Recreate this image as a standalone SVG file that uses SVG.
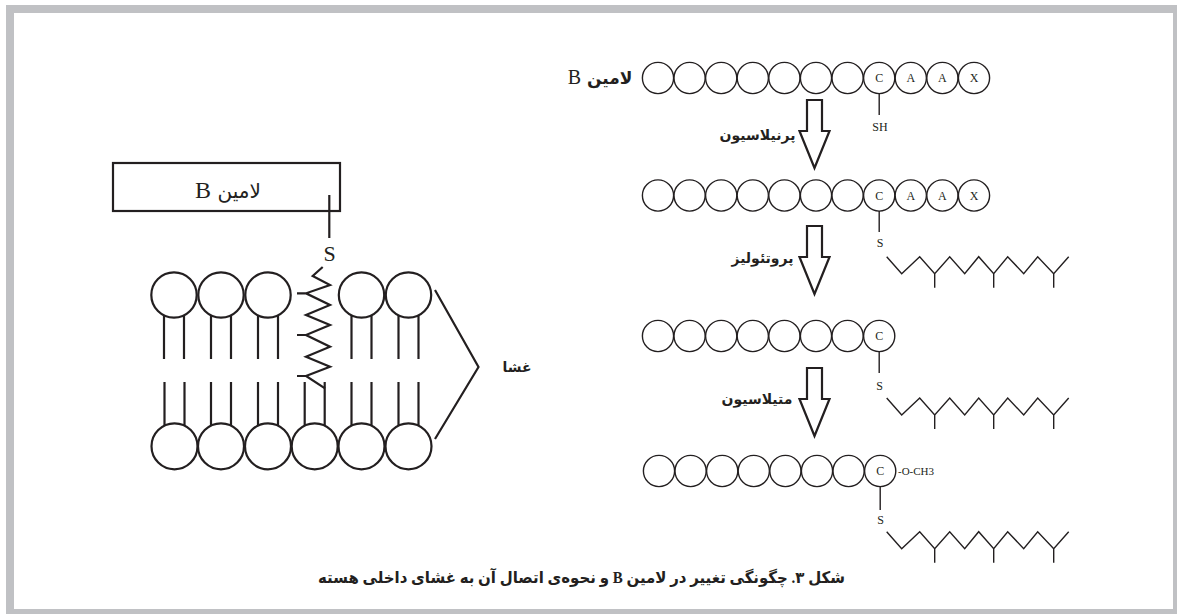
<svg xmlns="http://www.w3.org/2000/svg" xmlns:xlink="http://www.w3.org/1999/xlink" width="1180" height="614" viewBox="0 0 1180 614">
  <style>
    .ln { fill: none; stroke: #231f20; stroke-width: 1.4; stroke-linejoin: miter; }
    .thick { fill: none; stroke: #231f20; stroke-width: 2.2; }
    .res { fill: #fff; stroke: #231f20; stroke-width: 1.4; }
    .head { fill: #fff; stroke: #231f20; stroke-width: 2.2; }
    .aa { font-family: "Liberation Serif", serif; font-size: 12px; fill: #231f20; text-anchor: middle; }
    .lat { font-family: "Liberation Serif", serif; fill: #231f20; }
    .fa { font-family: "DejaVu Sans", "Noto Sans", sans-serif; fill: #231f20; }
    .mix { font-family: "Liberation Serif", "DejaVu Sans", serif; fill: #231f20; }
    .b { font-weight: bold; }
  </style>
  <defs>
    <circle id="res" r="15.6" class="res"/>
    <!-- prenyl chain: zigzag with three methyl branches -->
    <path id="prenyl" class="ln" d="M0,0 L15,17 L33,0 L48,17 L63,0 L78,17 L92,0 L107,17 L121,0 L137,17 L151,0 L167,17 L182,0 M48,17 V31 M107,17 V31 M167,17 V31"/>
    <!-- hollow down arrow -->
    <path id="arrow" class="thick" d="M-7.5,0 H7.5 V31 H15 L0,68 L-15,31 H-7.5 Z"/>
  </defs>

  <!-- frame -->
  <rect x="0" y="0" width="1180" height="614" fill="#fff"/>
  <rect x="6" y="5" width="1171" height="620" fill="#c0c1c4"/>
  <rect x="14" y="13" width="1159" height="596" fill="#fff"/>

  <!-- step 1: lamin B with CAAX tail -->
  <g id="chain1">
    <text class="fa b" x="600" y="84" font-size="17" direction="rtl" text-anchor="middle">لامین <tspan class="lat" font-size="20" font-weight="normal">B</tspan></text>
    <use xlink:href="#res" x="658" y="78"/>
    <use xlink:href="#res" x="689.6" y="78"/>
    <use xlink:href="#res" x="721.2" y="78"/>
    <use xlink:href="#res" x="752.8" y="78"/>
    <use xlink:href="#res" x="784.4" y="78"/>
    <use xlink:href="#res" x="816" y="78"/>
    <use xlink:href="#res" x="847.6" y="78"/>
    <use xlink:href="#res" x="879.2" y="78"/>
    <use xlink:href="#res" x="910.8" y="78"/>
    <use xlink:href="#res" x="942.4" y="78"/>
    <use xlink:href="#res" x="974" y="78"/>
    <text class="aa" x="879.2" y="82">C</text>
    <text class="aa" x="910.8" y="82">A</text>
    <text class="aa" x="942.4" y="82">A</text>
    <text class="aa" x="974" y="82">X</text>
    <line class="ln" x1="879.2" y1="93.6" x2="879.2" y2="115"/>
    <text class="aa" x="880" y="131">SH</text>
  </g>

  <!-- step 2: prenylated -->
  <g id="chain2">
    <use xlink:href="#res" x="658" y="195.5"/>
    <use xlink:href="#res" x="689.6" y="195.5"/>
    <use xlink:href="#res" x="721.2" y="195.5"/>
    <use xlink:href="#res" x="752.8" y="195.5"/>
    <use xlink:href="#res" x="784.4" y="195.5"/>
    <use xlink:href="#res" x="816" y="195.5"/>
    <use xlink:href="#res" x="847.6" y="195.5"/>
    <use xlink:href="#res" x="879.2" y="195.5"/>
    <use xlink:href="#res" x="910.8" y="195.5"/>
    <use xlink:href="#res" x="942.4" y="195.5"/>
    <use xlink:href="#res" x="974" y="195.5"/>
    <text class="aa" x="879.2" y="199.5">C</text>
    <text class="aa" x="910.8" y="199.5">A</text>
    <text class="aa" x="942.4" y="199.5">A</text>
    <text class="aa" x="974" y="199.5">X</text>
    <line class="ln" x1="879.2" y1="211.1" x2="879.2" y2="232"/>
    <text class="aa" x="880" y="247">S</text>
    <use xlink:href="#prenyl" x="886.7" y="256.7"/>
  </g>

  <!-- step 3: proteolysed -->
  <g id="chain3">
    <use xlink:href="#res" x="658" y="336"/>
    <use xlink:href="#res" x="689.6" y="336"/>
    <use xlink:href="#res" x="721.2" y="336"/>
    <use xlink:href="#res" x="752.8" y="336"/>
    <use xlink:href="#res" x="784.4" y="336"/>
    <use xlink:href="#res" x="816" y="336"/>
    <use xlink:href="#res" x="847.6" y="336"/>
    <use xlink:href="#res" x="879.2" y="336"/>
    <text class="aa" x="879.2" y="340">C</text>
    <line class="ln" x1="879.2" y1="351.6" x2="879.2" y2="373"/>
    <text class="aa" x="879.5" y="390">S</text>
    <use xlink:href="#prenyl" x="886.7" y="398"/>
  </g>

  <!-- step 4: methylated -->
  <g id="chain4">
    <use xlink:href="#res" x="659" y="471"/>
    <use xlink:href="#res" x="690.6" y="471"/>
    <use xlink:href="#res" x="722.2" y="471"/>
    <use xlink:href="#res" x="753.8" y="471"/>
    <use xlink:href="#res" x="785.4" y="471"/>
    <use xlink:href="#res" x="817" y="471"/>
    <use xlink:href="#res" x="848.6" y="471"/>
    <use xlink:href="#res" x="880.2" y="471"/>
    <text class="aa" x="880.2" y="475">C</text>
    <text class="lat" x="898" y="474.5" font-size="11">-O-CH3</text>
    <line class="ln" x1="880.2" y1="486.6" x2="880.2" y2="510"/>
    <text class="aa" x="880.5" y="524">S</text>
    <use xlink:href="#prenyl" x="886.7" y="531.7"/>
  </g>

  <!-- reaction arrows with step names -->
  <g id="connectors">
    <use xlink:href="#arrow" x="814.5" y="100"/>
    <use xlink:href="#arrow" x="814.5" y="226"/>
    <use xlink:href="#arrow" x="814.5" y="368"/>
  </g>
  <g id="step-labels">
    <text class="fa b" x="757.5" y="140" font-size="14" direction="rtl" text-anchor="middle">پرنیلاسیون</text>
    <text class="fa b" x="762.5" y="263" font-size="14" direction="rtl" text-anchor="middle">پروتئولیز</text>
    <text class="fa b" x="757" y="404" font-size="14" direction="rtl" text-anchor="middle">متیلاسیون</text>
  </g>

  <!-- lamin B anchored to the membrane -->
  <g id="lamin-box">
    <rect x="113" y="163" width="227" height="48" class="thick"/>
    <text class="fa" x="228" y="198" font-size="20" direction="rtl" text-anchor="middle">لامین <tspan class="lat" font-size="24">B</tspan></text>
    <line class="thick" x1="329.3" y1="195" x2="329.3" y2="238"/>
    <text class="lat" x="329.5" y="261" font-size="22" text-anchor="middle">S</text>
  </g>

  <g id="membrane">
    <!-- outer leaflet -->
    <g class="thick">
      <path d="M164,315 V359 M184,315 V359 M211,315 V359 M231,315 V359 M258,315 V359 M278,315 V359 M351.5,315 V359 M371.5,315 V359 M398.5,315 V359 M418.5,315 V359"/>
    </g>
    <circle class="head" cx="174" cy="295" r="22.7"/>
    <circle class="head" cx="221" cy="295" r="22.7"/>
    <circle class="head" cx="268" cy="295" r="22.7"/>
    <circle class="head" cx="361.5" cy="295" r="22.7"/>
    <circle class="head" cx="408.5" cy="295" r="22.7"/>
    <!-- inner leaflet -->
    <g class="thick">
      <path d="M164.5,382 V427 M184.5,382 V427 M211,382 V427 M231,382 V427 M258,382 V427 M278,382 V427 M304.7,382 V427 M324.7,382 V427 M351.5,382 V427 M371.5,382 V427 M398.5,382 V427 M418.5,382 V427"/>
    </g>
    <circle class="head" cx="174.5" cy="446.3" r="23"/>
    <circle class="head" cx="221" cy="446.3" r="23"/>
    <circle class="head" cx="268" cy="446.3" r="23"/>
    <circle class="head" cx="314.7" cy="446.3" r="23"/>
    <circle class="head" cx="361.5" cy="446.3" r="23"/>
    <circle class="head" cx="408.5" cy="446.3" r="23"/>
    <!-- prenyl anchor inserted in the bilayer -->
    <path class="thick" d="M322.7,267 L312.7,276 L330,285 L306,293.3 L330,305 L306,315 L330,325 L306,335 L330,346.7 L306,356.7 L330,366.7 L306,376 L325,388.3 M297,293.3 H306 M297,335 H306 M297,376 H306"/>
    <!-- bracket -->
    <path class="thick" d="M435,290 L478.5,367 L435,439"/>
    <text class="fa b" x="517" y="372" font-size="14" direction="rtl" text-anchor="middle">غشا</text>
  </g>

  <!-- caption: Latin letters in the serif face, Persian falls through to DejaVu -->
  <text id="caption" class="mix b" x="581.5" y="583" font-size="16" direction="rtl" text-anchor="middle" textLength="527" lengthAdjust="spacingAndGlyphs">شکل ۳. چگونگی تغییر در لامین B و نحوه‌ی اتصال آن به غشای داخلی هسته</text>
</svg>
